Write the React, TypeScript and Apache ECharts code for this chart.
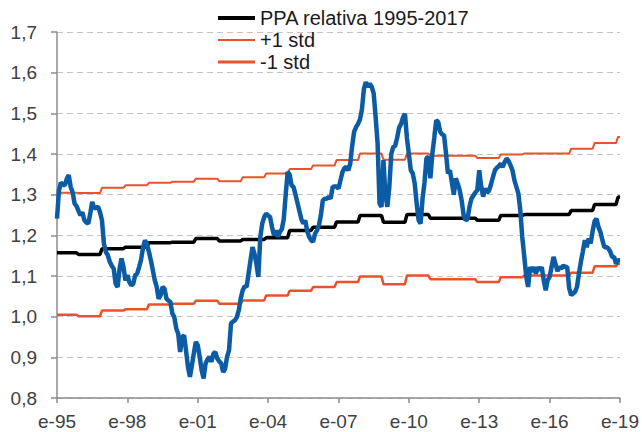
import React, { useEffect, useRef } from 'react';
import * as echarts from 'echarts';

// Monthly categories: Jan 1995 .. Jan 2019
const MONTHS = ['ene', 'feb', 'mar', 'abr', 'may', 'jun', 'jul', 'ago', 'sep', 'oct', 'nov', 'dic'];
const START_YEAR = 1995;
const N_MONTHS = 289;
const categories: string[] = Array.from({ length: N_MONTHS }, (_, i) =>
  `${MONTHS[i % 12]}-${String((START_YEAR + Math.floor(i / 12)) % 100).padStart(2, '0')}`
);

// Y tick labels
const yTicks = ['0,8', '0,9', '1,0', '1,1', '1,2', '1,3', '1,4', '1,5', '1,6', '1,7'];

const tipoCambio = [
  1.241, 1.31, 1.33, 1.325, 1.323, 1.339, 1.348, 1.319, 1.306, 1.278,
  1.272, 1.26, 1.249, 1.257, 1.237, 1.232, 1.229, 1.253, 1.282, 1.266,
  1.268, 1.27, 1.257, 1.237, 1.18, 1.159, 1.151, 1.135, 1.125, 1.118,
  1.081, 1.073, 1.118, 1.143, 1.122, 1.089, 1.102, 1.085, 1.077, 1.081,
  1.102, 1.106, 1.122, 1.14, 1.17, 1.188, 1.178, 1.16, 1.139, 1.115,
  1.09, 1.073, 1.044, 1.053, 1.073, 1.069, 1.044, 1.04, 1.036, 1.008,
  0.999, 0.971, 0.958, 0.913, 0.95, 0.954, 0.917, 0.876, 0.852, 0.88,
  0.91, 0.938, 0.93, 0.901, 0.868, 0.848, 0.885, 0.895, 0.901, 0.889,
  0.909, 0.913, 0.897, 0.89, 0.885, 0.864, 0.872, 0.901, 0.917, 0.983,
  0.988, 0.991, 0.999, 1.016, 1.045, 1.065, 1.075, 1.073, 1.106, 1.139,
  1.171, 1.155, 1.13, 1.098, 1.196, 1.229, 1.245, 1.253, 1.249, 1.245,
  1.22, 1.2, 1.212, 1.196, 1.208, 1.215, 1.24, 1.3, 1.356, 1.35,
  1.323, 1.319, 1.3, 1.28, 1.26, 1.24, 1.229, 1.237, 1.21, 1.196,
  1.188, 1.184, 1.204, 1.212, 1.225, 1.25, 1.286, 1.29, 1.29, 1.295,
  1.29, 1.319, 1.32, 1.32, 1.315, 1.335, 1.355, 1.365, 1.368, 1.36,
  1.376, 1.42, 1.455, 1.466, 1.474, 1.485, 1.51, 1.56, 1.577, 1.565,
  1.573, 1.565, 1.549, 1.491, 1.426, 1.278, 1.27, 1.385, 1.3, 1.27,
  1.319, 1.4, 1.417, 1.42, 1.44, 1.465, 1.474, 1.49, 1.499, 1.44,
  1.4, 1.36, 1.352, 1.327, 1.278, 1.237, 1.229, 1.29, 1.33, 1.39,
  1.393, 1.34, 1.4, 1.44, 1.483, 1.479, 1.455, 1.448, 1.446, 1.401,
  1.352, 1.36, 1.33, 1.3, 1.34, 1.327, 1.311, 1.286, 1.25, 1.237,
  1.24, 1.27, 1.29, 1.298, 1.305, 1.311, 1.36, 1.32, 1.295, 1.315,
  1.305, 1.31, 1.325, 1.343, 1.36, 1.366, 1.37, 1.376, 1.368, 1.38,
  1.389, 1.383, 1.372, 1.36, 1.335, 1.319, 1.303, 1.262, 1.196, 1.15,
  1.1, 1.073, 1.122, 1.11, 1.122, 1.106, 1.122, 1.114, 1.122, 1.089,
  1.065, 1.09, 1.098, 1.122, 1.147, 1.13, 1.112, 1.122, 1.118, 1.126,
  1.122, 1.122, 1.07, 1.053, 1.057, 1.061, 1.073, 1.106, 1.135, 1.16,
  1.188, 1.171, 1.192, 1.18, 1.21, 1.235, 1.241, 1.22, 1.208, 1.188,
  1.171, 1.171, 1.168, 1.16, 1.147, 1.147, 1.13, 1.139, 1.139,
];

// Step levels (one per year segment, each changing in December)
const ppaAnual = [
  1.157, 1.153, 1.167, 1.171, 1.182, 1.183, 1.192, 1.186, 1.19, 1.194,
  1.212, 1.22, 1.233, 1.249, 1.232, 1.251, 1.242, 1.242, 1.237, 1.249,
  1.251, 1.251, 1.261, 1.276, 1.294,
];
const mas1Anual = [
  1.305, 1.304, 1.317, 1.323, 1.329, 1.332, 1.339, 1.333, 1.343, 1.352,
  1.363, 1.372, 1.385, 1.401, 1.386, 1.401, 1.396, 1.396, 1.39, 1.399,
  1.401, 1.401, 1.413, 1.427, 1.442,
];
const menos1Anual = [
  1.005, 1.001, 1.015, 1.018, 1.03, 1.032, 1.039, 1.032, 1.04, 1.052,
  1.064, 1.073, 1.085, 1.099, 1.08, 1.101, 1.092, 1.092, 1.085, 1.097,
  1.101, 1.101, 1.108, 1.124, 1.13,
];

const seriesNames = ['PPA relativa 1995-2017', '+1 std', '-1 std'];

const toMonthly = (levels: number[]) => categories.map((_, i) => levels[Math.floor((i + 1) / 12)]);

const FONT = '"Liberation Sans", Arial, sans-serif';
const ORANGE = '#E8532B';
const BLUE = '#0B5CA4';

export default function App() {
  const ref = useRef<HTMLDivElement>(null);
  useEffect(() => {
    if (!ref.current) return;
    const chart = echarts.init(ref.current, undefined, { renderer: 'svg' });
    chart.setOption({
      animation: false,
      backgroundColor: '#ffffff',
      textStyle: { fontFamily: FONT },
      grid: { left: 57, right: 20, top: 32, bottom: 34, containLabel: false },
      legend: {
        orient: 'vertical',
        left: 218,
        top: 8,
        padding: 0,
        itemGap: 2,
        itemWidth: 37,
        itemHeight: 12,
        symbolKeepAspect: true,
        textStyle: { fontSize: 20, color: '#1a1a1a', fontFamily: FONT },
        data: [
          { name: seriesNames[0], icon: 'path://M0,0H37V4H0Z' },
          { name: seriesNames[1], icon: 'path://M0,0H37V2H0Z' },
          { name: seriesNames[2], icon: 'path://M0,0H37V3H0Z' },
        ],
      },
      xAxis: {
        type: 'category',
        data: categories,
        boundaryGap: false,
        axisLine: { lineStyle: { color: '#8c8c8c', width: 1.5 } },
        axisTick: { show: true, interval: 35, length: 5, lineStyle: { color: '#8c8c8c', width: 1.5 } },
        axisLabel: {
          interval: 35,
          margin: 14,
          fontSize: 19,
          color: '#404040',
          fontFamily: FONT,
          formatter: (v: string) => 'e-' + v.split('-')[1],
        },
        splitLine: { show: false },
      },
      yAxis: {
        type: 'value',
        min: 0.8,
        max: 1.7,
        interval: 0.1,
        axisLine: { show: true, lineStyle: { color: '#8c8c8c', width: 1.5 } },
        axisTick: { show: true, length: 6, lineStyle: { color: '#8c8c8c', width: 1.5 } },
        axisLabel: {
          margin: 20,
          fontSize: 19,
          color: '#404040',
          fontFamily: FONT,
          formatter: (v: number) => yTicks[Math.round((v - 0.8) * 10)] ?? String(v),
        },
        splitLine: { show: true, lineStyle: { color: '#c4c4c4', width: 1.2, type: [6, 4] } },
      },
      series: [
        {
          name: seriesNames[0],
          type: 'line',
          data: toMonthly(ppaAnual),
          symbol: 'none',
          lineStyle: { color: '#000000', width: 3.5 },
          itemStyle: { color: '#000000' },
          z: 2,
        },
        {
          name: seriesNames[1],
          type: 'line',
          data: toMonthly(mas1Anual),
          symbol: 'none',
          lineStyle: { color: ORANGE, width: 2 },
          itemStyle: { color: ORANGE },
          z: 2,
        },
        {
          name: seriesNames[2],
          type: 'line',
          data: toMonthly(menos1Anual),
          symbol: 'none',
          lineStyle: { color: ORANGE, width: 2.5 },
          itemStyle: { color: ORANGE },
          z: 2,
        },
        {
          name: 'Tipo de cambio',
          type: 'line',
          data: tipoCambio,
          symbol: 'none',
          lineStyle: { color: BLUE, width: 4.5 },
          itemStyle: { color: BLUE },
          z: 3,
        },
      ],
    });
    return () => chart.dispose();
  }, []);
  return (
    <div
      ref={ref}
      style={{ position: 'absolute', left: 0, top: 0, width: 642, height: 432, background: '#fff' }}
    />
  );
}
